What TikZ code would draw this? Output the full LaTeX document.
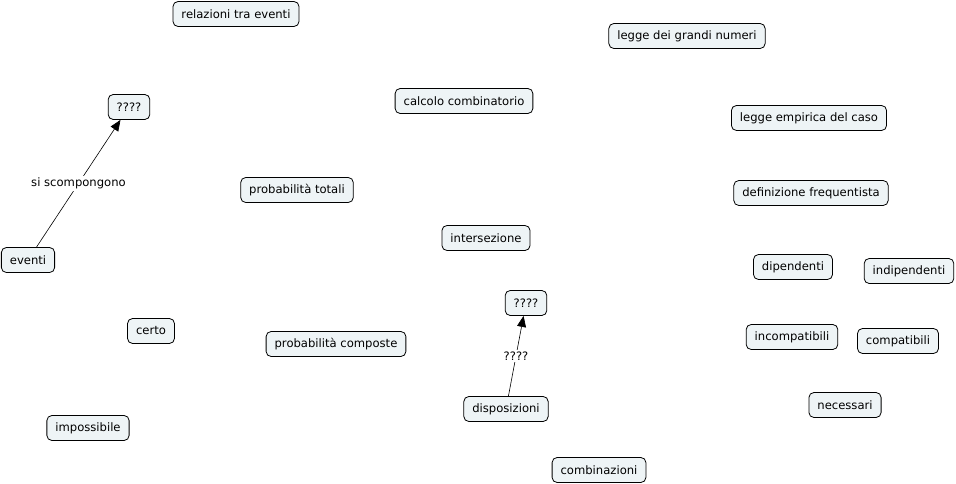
\documentclass[tikz,border=0pt]{standalone}
\usepackage{fontspec}
\setmainfont{DejaVu Sans}
\usetikzlibrary{arrows.meta}
\definecolor{Conceptfill}{RGB}{238,244,246}

\begin{document}
\begin{tikzpicture}[x=1pt,y=-1pt,
        concept/.style={draw=black, fill=Conceptfill, rounded corners=5pt, line width=0.8pt,
            inner xsep=8.5pt, minimum height=25pt, font=\fontsize{11.6}{13}\selectfont},
        linklabel/.style={fill=white, inner sep=1.5pt, font=\fontsize{11.6}{13}\selectfont},
        link/.style={line width=0.6pt, -{Triangle[length=11pt,width=9pt]}}]
            \useasboundingbox (0,0) rectangle (956,484);
            % concetti
            \node[concept] (relazioni) at (236,14) {relazioni tra eventi};
            \node[concept] (grandi) at (687,36) {legge dei grandi numeri};
            \node[concept] (qa) at (129,107) {????};
            \node[concept] (calcolo) at (464,101) {calcolo combinatorio};
            \node[concept] (empirica) at (809,118) {legge empirica del caso};
            \node[concept] (totali) at (297,190) {probabilità totali};
            \node[concept] (frequentista) at (811,193) {definizione frequentista};
            \node[concept] (intersezione) at (486,238) {intersezione};
            \node[concept] (eventi) at (28,260) {eventi};
            \node[concept] (dipendenti) at (793,267) {dipendenti};
            \node[concept] (indipendenti) at (909,271) {indipendenti};
            \node[concept] (qb) at (526,303) {????};
            \node[concept] (certo) at (151,331) {certo};
            \node[concept] (incompatibili) at (792,337) {incompatibili};
            \node[concept] (compatibili) at (898,341) {compatibili};
            \node[concept] (composte) at (336,344) {probabilità composte};
            \node[concept] (disposizioni) at (506,409) {disposizioni};
            \node[concept] (necessari) at (845,405) {necessari};
            \node[concept] (impossibile) at (88,428) {impossibile};
            \node[concept] (combinazioni) at (599,470) {combinazioni};

            % collegamenti
            \draw[link] (eventi) -- node[linklabel] {si scompongono} (qa);
            \draw[link] (disposizioni) -- node[linklabel] {????} (qb);
        \end{tikzpicture}
\end{document}
